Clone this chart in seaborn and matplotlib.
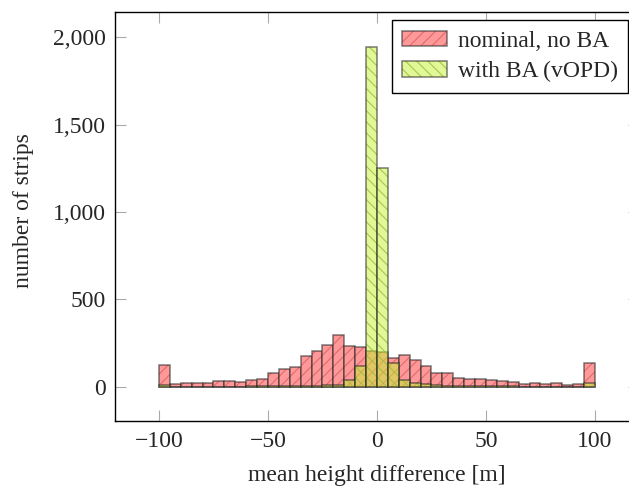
import numpy as np
import pandas as pd
import matplotlib
matplotlib.use("Agg")
import matplotlib.pyplot as plt
import seaborn as sns
from matplotlib.ticker import FuncFormatter
from matplotlib.colors import to_rgba

# ---- data ----
bin_edges = list(range(-100, 105, 5))
nominal_counts = [128, 14, 21, 21, 21, 33, 33, 27, 42, 46,
                  80, 103, 111, 174, 204, 242, 294, 233, 227, 203,
                  200, 166, 183, 155, 118, 82, 78, 51, 44, 46,
                  37, 31, 27, 14, 21, 15, 25, 12, 14, 136]
ba_counts = [8, 2, 2, 2, 2, 2, 2, 2, 3, 3,
             3, 4, 5, 6, 6, 8, 13, 38, 122, 1945,
             1250, 138, 38, 25, 14, 8, 7, 5, 4, 4,
             3, 3, 3, 2, 2, 2, 2, 2, 2, 21]
series_labels = ["nominal, no BA", "with BA (vOPD)"]
x_ticks = [-100, -50, 0, 50, 100]
y_ticks = [0, 500, 1000, 1500, 2000]

centers = [(a + b) / 2 for a, b in zip(bin_edges[:-1], bin_edges[1:])]
df_nom = pd.DataFrame({"diff": centers, "count": nominal_counts})
df_ba = pd.DataFrame({"diff": centers, "count": ba_counts})

sns.set_style("white")
plt.rcParams["font.family"] = ["Liberation Serif", "DejaVu Serif"]
plt.rcParams["hatch.linewidth"] = 0.8

FS = 17
W, H = 629, 488
fig = plt.figure(figsize=(W / 100, H / 100), dpi=100)
ax_w = 523.3
ax_h = 421 - 11.7
ax = fig.add_axes([115.3 / W, (H - 421) / H, ax_w / W, ax_h / H])

edge_col = (0.15, 0.15, 0.15, 0.6)

styles = [
    dict(face=(1.0, 0.60, 0.60, 1.0), hatch="///", hcol=(0.88, 0.42, 0.42, 1.0)),
    dict(face=(0.765, 0.96, 0.18, 0.5), hatch="\\\\\\", hcol=(0.62, 0.72, 0.25, 0.8)),
]

for df, lab, st in zip([df_nom, df_ba], series_labels, styles):
    n_before = len(ax.patches)
    sns.histplot(data=df, x="diff", weights="count", bins=bin_edges,
                 stat="count", element="bars", fill=True, ax=ax,
                 label=lab, shrink=1.0)
    for p in ax.patches[n_before:]:
        p.set_facecolor(st["face"])
        p.set_edgecolor(edge_col)
        p.set_linewidth(1.1)
        p.set_hatch(st["hatch"])
        p._hatch_color = to_rgba(st["hcol"])

ax.set_xlim(-120, 120)
ax.set_ylim(-195, 2145)
ax.set_xticks(x_ticks)
ax.set_yticks(y_ticks)
ax.yaxis.set_major_formatter(FuncFormatter(lambda v, pos: f"{v:,.0f}"))
ax.tick_params(axis="both", which="major", direction="in", length=8,
               width=0.8, color="#aaaaaa", labelsize=FS, pad=7,
               top=True, right=True, bottom=True, left=True)
for s in ax.spines.values():
    s.set_color("black")
    s.set_linewidth(1.0)

ax.set_xlabel("mean height difference [m]", fontsize=FS)
ax.set_ylabel("number of strips", fontsize=FS)
ax.xaxis.set_label_coords(0.5, (421 - 465) / ax_h)
ax.yaxis.set_label_coords((34 - 115.3) / ax_w, (421 - 210.5) / ax_h)

lx0, lx1, ly0, ly1 = 391.7, 628.0, 20.0, 91.7
leg = ax.legend(loc="upper left",
                bbox_to_anchor=((lx0 - 115.3) / ax_w, (421 - ly1) / ax_h,
                                (lx1 - lx0) / ax_w, (ly1 - ly0) / ax_h),
                mode="expand",
                fontsize=FS, frameon=True, fancybox=False,
                edgecolor="black", framealpha=1.0, borderpad=0.45,
                handlelength=1.9, handleheight=0.65, labelspacing=0.38,
                handletextpad=0.45, borderaxespad=0.0)
leg.get_frame().set_linewidth(1.0)
for h, st in zip(leg.legend_handles, styles):
    h.set_facecolor(st["face"])
    h.set_edgecolor(edge_col)
    h.set_hatch(st["hatch"])
    h._hatch_color = to_rgba(st["hcol"])

fig.savefig("out.png", dpi=100)
